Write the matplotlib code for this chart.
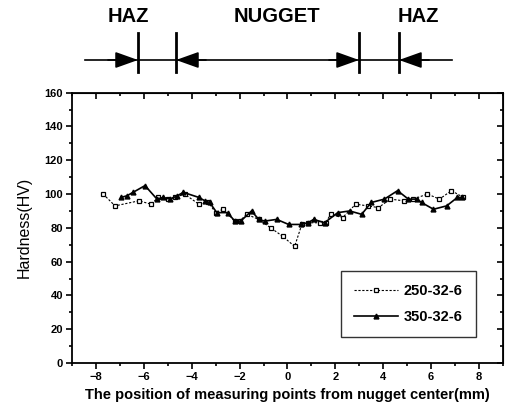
import matplotlib
matplotlib.use("Agg")
import matplotlib.pyplot as plt
from matplotlib.patches import FancyArrowPatch
from matplotlib.ticker import MultipleLocator

plt.rcParams['font.family'] = ['Liberation Sans', 'DejaVu Sans']

# 250-32-6 (open squares, dashed line)
pos_250 = [-7.7, -7.2, -6.2, -5.7, -5.4, -5.0, -4.7, -4.3, -3.7, -3.3, -3.0,
           -2.7, -2.2, -2.0, -1.7, -1.2, -0.7, -0.2, 0.3, 0.6, 0.85, 1.35,
           1.6, 1.8, 2.3, 2.85, 3.35, 3.8, 4.3, 4.85, 5.25, 5.85, 6.35, 6.85, 7.35]
hv_250 = [100, 93, 96, 94, 98, 97, 98, 100, 94, 95, 89,
          91, 84, 84, 88, 85, 80, 75, 69, 82, 83, 83,
          83, 88, 86, 94, 93, 92, 97, 96, 97, 100, 97, 102, 98]

# 350-32-6 (filled triangles, solid line)
pos_350 = [-6.95, -6.7, -6.45, -5.95, -5.45, -5.2, -4.9, -4.6, -4.35, -3.7, -3.45,
           -3.25, -2.95, -2.5, -2.2, -1.95, -1.5, -1.2, -0.95, -0.45, 0.05, 0.55,
           0.85, 1.1, 1.55, 2.1, 2.6, 3.1, 3.5, 4.05, 4.6, 5.05, 5.4, 5.6, 6.1,
           6.65, 7.1, 7.3]
hv_350 = [98, 99, 101, 105, 97, 98, 97, 99, 101, 98, 96,
          95, 89, 89, 84, 84, 90, 85, 84, 85, 82, 82,
          83, 85, 83, 89, 90, 88, 95, 97, 102, 97, 97, 95, 91,
          93, 98, 98]

fig = plt.figure(figsize=(5.19, 4.11), dpi=100)
ax = fig.add_axes([0.1387, 0.1168, 0.8303, 0.6577])

ax.plot(pos_250, hv_250, color='black', lw=0.8, ls=(0, (2, 1.5)),
        marker='s', ms=3.2, mfc='white', mec='black', mew=0.9, label='250-32-6')
ax.plot(pos_350, hv_350, color='black', lw=1.2, ls='-',
        marker='^', ms=3.5, mfc='black', mec='black', label='350-32-6')

ax.set_xlim(-9, 9)
ax.set_ylim(0, 160)
ax.xaxis.set_major_locator(MultipleLocator(2))
ax.xaxis.set_minor_locator(MultipleLocator(1))
ax.yaxis.set_major_locator(MultipleLocator(20))
ax.yaxis.set_minor_locator(MultipleLocator(10))
ax.tick_params(which='both', direction='out', top=False, right=False, width=1.2)
ax.tick_params(which='major', length=4, labelsize=8, pad=2.5)
ax.tick_params(which='minor', length=2)
for lab in ax.get_xticklabels() + ax.get_yticklabels():
    lab.set_fontweight('bold')
for s in ax.spines.values():
    s.set_linewidth(1.3)

# inward ticks on top and right
sec_x = ax.secondary_xaxis('top')
sec_x.xaxis.set_major_locator(MultipleLocator(2))
sec_x.xaxis.set_minor_locator(MultipleLocator(1))
sec_x.tick_params(which='both', direction='in', labeltop=False, width=1.2)
sec_x.tick_params(which='major', length=4)
sec_x.tick_params(which='minor', length=2)
sec_y = ax.secondary_yaxis('right')
sec_y.yaxis.set_major_locator(MultipleLocator(20))
sec_y.yaxis.set_minor_locator(MultipleLocator(10))
sec_y.tick_params(which='both', direction='in', labelright=False, width=1.2)
sec_y.tick_params(which='major', length=4)
sec_y.tick_params(which='minor', length=2)

ax.set_xlabel('The position of measuring points from nugget center(mm)',
              fontsize=10.5, fontweight='bold', labelpad=4)
ax.set_ylabel('Hardness(HV)', fontsize=11.5, labelpad=9)

leg = ax.legend(loc='lower right', bbox_to_anchor=(0.937, 0.096), fontsize=10.5,
                frameon=True, fancybox=False, edgecolor='black', handlelength=3.0,
                handletextpad=0.4, borderpad=0.9, labelspacing=0.8, borderaxespad=0)
leg.get_frame().set_linewidth(1.0)
for t in leg.get_texts():
    t.set_fontweight('bold')

# header: zone labels and arrows (figure pixel coords)
W, H = 519, 411
def fx(x): return x / W
def fy(y): return 1 - y / H

yl = 60
fig.add_artist(plt.Line2D([fx(85), fx(452)], [fy(yl), fy(yl)], color='black', lw=1.2))
for xb in [138, 176, 359, 399]:
    fig.add_artist(plt.Line2D([fx(xb), fx(xb)], [fy(33), fy(72)], color='black', lw=2.0))
arrow_kw = dict(arrowstyle='-|>,head_length=1.4,head_width=0.5', color='black', lw=1.2)
for x0, x1 in [(108, 138), (206, 176), (329, 359), (429, 399)]:
    fig.add_artist(FancyArrowPatch(
        (fx(x0), fy(yl)), (fx(x1), fy(yl)), transform=fig.transFigure,
        mutation_scale=10, shrinkA=0, shrinkB=0, **arrow_kw))
for txt, xc in [('HAZ', 128), ('NUGGET', 277), ('HAZ', 418)]:
    fig.text(fx(xc), fy(16), txt, ha='center', va='center', fontsize=14.5,
             fontweight='bold')

fig.savefig('out.png', dpi=100)
